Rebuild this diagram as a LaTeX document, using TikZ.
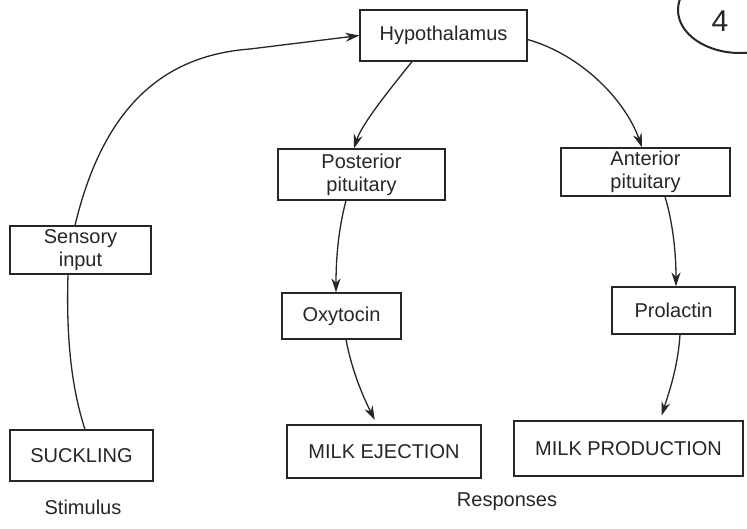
\documentclass[tikz,border=0pt]{standalone}
\usepackage{fontspec}
\setmainfont{Liberation Sans}
\usetikzlibrary{arrows.meta}
\definecolor{ink}{HTML}{262626}
\begin{document}
\begin{tikzpicture}[x=1pt,y=-1pt,
  box/.style={draw=ink, line width=1.2pt, inner sep=0pt, align=center, font=\fontsize{20}{23}\selectfont, text=ink},
  lab/.style={font=\fontsize{20}{23}\selectfont, text=ink},
  conn/.style={draw=ink, line width=1.3pt},
  arr/.style={conn, -{Stealth[length=14pt,width=9pt]}}]
\useasboundingbox[fill=white] (0,0) rectangle (747,528);

\node[box, minimum width=167pt, minimum height=51pt] (hypo) at (443.5,35.5) {Hypothalamus};
\node[box, minimum width=167pt, minimum height=51pt] (post) at (361.5,174.5) {Posterior\\pituitary};
\node[box, minimum width=169pt, minimum height=48pt] (ant) at (645.5,172) {Anterior\\pituitary};
\node[box, minimum width=141pt, minimum height=48pt] (sens) at (80.5,250) {Sensory\\input};
\node[box, minimum width=119pt, minimum height=46pt] (oxy) at (341.5,316) {Oxytocin};
\node[box, minimum width=123pt, minimum height=47pt] (prol) at (673.5,310.5) {Prolactin};
\node[box, minimum width=143pt, minimum height=51pt] (suck) at (81.5,455.5) {SUCKLING};
\node[box, minimum width=194pt, minimum height=53pt] (eject) at (384,451.5) {MILK EJECTION};
\node[box, minimum width=229pt, minimum height=55pt] (prod) at (628.5,448.5) {MILK PRODUCTION};
\node[lab] (stim) at (83,507) {Stimulus};
\node[lab] (resp) at (507,502) {Responses};

\coordinate (bend) at (250,49);

% stimulus loop
\draw[conn] ([xshift=3.5pt]suck.north) .. controls +(-13,-40) and +(-2,66) .. ([xshift=-12.5pt]sens.south);
\draw[conn] ([xshift=-5.5pt]sens.north) .. controls +(30,-126) and +(-80,6) .. (bend);
\draw[arr] (bend) -- (hypo.west);

% hypothalamus branches
\draw[arr] ([xshift=-31.5pt]hypo.south) .. controls +(-20,25) and +(8,-25) .. ([xshift=-7.5pt]post.north);
\draw[arr] ([yshift=-4pt]hypo.east) .. controls +(53,15) and +(-17,-48) .. ([xshift=-3.5pt]ant.north);

% pituitary to hormones
\draw[arr] ([xshift=-15.5pt]post.south) .. controls +(-8,30) and +(0,-32) .. ([xshift=-5.5pt]oxy.north);
\draw[arr] ([xshift=19.5pt]ant.south) .. controls +(7,23) and +(0,-37) .. ([xshift=2.5pt]prol.north);

% hormones to responses
\draw[arr, shorten >=5pt] ([xshift=4.5pt]oxy.south) .. controls +(6,31) and +(-15,-30) .. ([xshift=-7pt]eject.north);
\draw[arr, shorten >=5pt] ([xshift=6.5pt]prol.south) .. controls +(-2,31) and +(10,-31) .. ([xshift=31.5pt]prod.north);

% handwritten page mark
\begin{scope}
\clip (0,0) rectangle (747,528);
\draw[ink, line width=2pt] (740,10) ellipse [x radius=62, y radius=43];
\node[text=ink, font=\fontsize{30}{30}\selectfont] (four) at (720,21) {4};
\end{scope}
\end{tikzpicture}
\end{document}
